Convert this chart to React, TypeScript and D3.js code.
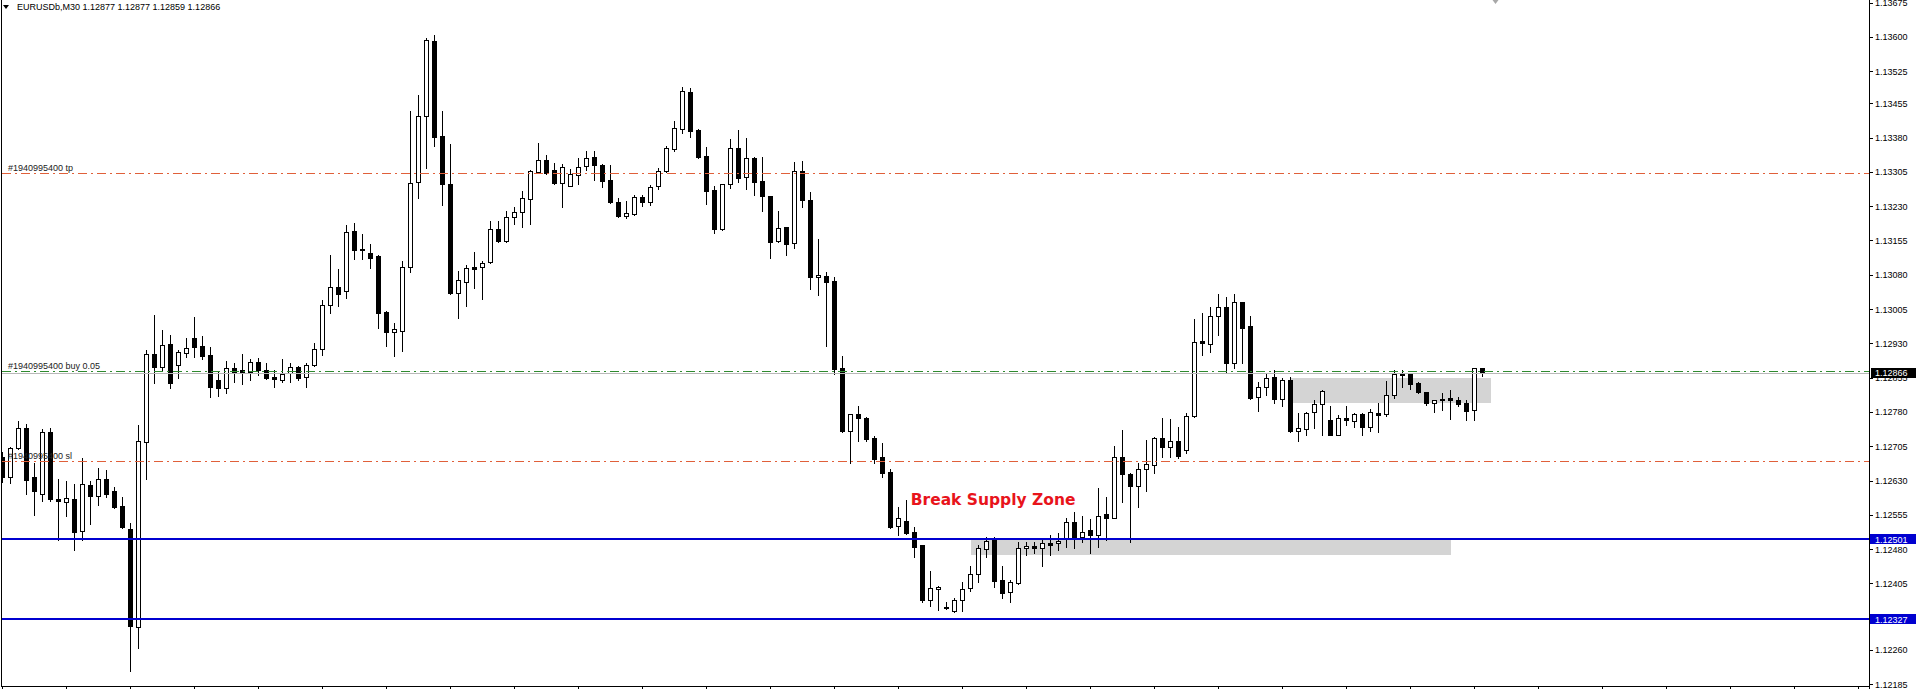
import React from "react";
import * as d3 from "d3";

const symbolTitle = "EURUSDb,M30  1.12877 1.12877 1.12859 1.12866";

const opens = [
  1.12682, 1.12638, 1.12700, 1.12744, 1.12637, 1.12600, 1.12736, 1.12590, 1.12584, 1.12589,
  1.12520, 1.12620, 1.12597, 1.12633, 1.12608, 1.12574, 1.12523, 1.12310, 1.12715, 1.12907,
  1.12879, 1.12929, 1.12883, 1.12908, 1.12941, 1.12925, 1.12904, 1.12850, 1.12832, 1.12875,
  1.12871, 1.12868, 1.12889, 1.12871, 1.12856, 1.12850, 1.12864, 1.12878, 1.12856, 1.12883,
  1.12917, 1.13013, 1.13053, 1.13044, 1.13176, 1.13136, 1.13128, 1.13121, 1.12999, 1.12955,
  1.12958, 1.13096, 1.13282, 1.13426, 1.13591, 1.13383, 1.13278, 1.13041, 1.13065, 1.13096,
  1.13096, 1.13108, 1.13179, 1.13154, 1.13207, 1.13217, 1.13245, 1.13305, 1.13331, 1.13309,
  1.13280, 1.13275, 1.13297, 1.13318, 1.13337, 1.13321, 1.13287, 1.13238, 1.13209, 1.13213,
  1.13251, 1.13238, 1.13273, 1.13307, 1.13355, 1.13399, 1.13479, 1.13397, 1.13340, 1.13265,
  1.13179, 1.13278, 1.13357, 1.13294, 1.13335, 1.13285, 1.13252, 1.13154, 1.13184, 1.13149,
  1.13307, 1.13243, 1.13074, 1.13077, 1.13066, 1.12875, 1.12739, 1.12775, 1.12767, 1.12722,
  1.12681, 1.12649, 1.12531, 1.12541, 1.12517, 1.12489, 1.12369, 1.12393, 1.12354, 1.12345,
  1.12369, 1.12394, 1.12425, 1.12480, 1.12500, 1.12412, 1.12386, 1.12405, 1.12482, 1.12487,
  1.12482, 1.12493, 1.12493, 1.12502, 1.12539, 1.12507, 1.12522, 1.12511, 1.12557, 1.12549,
  1.12681, 1.12644, 1.12619, 1.12655, 1.12664, 1.12722, 1.12704, 1.12716, 1.12697, 1.12770,
  1.12935, 1.12928, 1.12990, 1.13009, 1.12888, 1.13020, 1.12968, 1.12813, 1.12835, 1.12856,
  1.12808, 1.12850, 1.12739, 1.12742, 1.12779, 1.12797, 1.12762, 1.12730, 1.12767, 1.12760,
  1.12775, 1.12748, 1.12777, 1.12775, 1.12817, 1.12860, 1.12862, 1.12843, 1.12823, 1.12799,
  1.12808, 1.12810, 1.12806, 1.12799, 1.12784, 1.12877,
];

const highs = [
  1.12692, 1.12704, 1.12761, 1.12754, 1.12669, 1.12742, 1.12745, 1.12633, 1.12630, 1.12622,
  1.12679, 1.12629, 1.12657, 1.12653, 1.12615, 1.12593, 1.12536, 1.12751, 1.12915, 1.12992,
  1.12959, 1.12948, 1.12915, 1.12941, 1.12988, 1.12946, 1.12923, 1.12868, 1.12891, 1.12886,
  1.12907, 1.12896, 1.12897, 1.12886, 1.12872, 1.12895, 1.12886, 1.12880, 1.12888, 1.12930,
  1.13025, 1.13123, 1.13093, 1.13189, 1.13192, 1.13169, 1.13147, 1.13123, 1.13000, 1.12974,
  1.13110, 1.13439, 1.13473, 1.13597, 1.13604, 1.13437, 1.13366, 1.13089, 1.13101, 1.13129,
  1.13111, 1.13197, 1.13197, 1.13219, 1.13229, 1.13262, 1.13309, 1.13367, 1.13342, 1.13324,
  1.13323, 1.13311, 1.13335, 1.13351, 1.13351, 1.13323, 1.13321, 1.13247, 1.13241, 1.13254,
  1.13254, 1.13276, 1.13313, 1.13362, 1.13416, 1.13490, 1.13488, 1.13398, 1.13359, 1.13275,
  1.13279, 1.13376, 1.13397, 1.13378, 1.13338, 1.13338, 1.13253, 1.13219, 1.13185, 1.13327,
  1.13329, 1.13260, 1.13158, 1.13087, 1.13076, 1.12902, 1.12776, 1.12793, 1.12768, 1.12727,
  1.12713, 1.12655, 1.12571, 1.12587, 1.12529, 1.12490, 1.12432, 1.12399, 1.12365, 1.12372,
  1.12407, 1.12442, 1.12489, 1.12507, 1.12507, 1.12442, 1.12412, 1.12496, 1.12496, 1.12496,
  1.12504, 1.12511, 1.12515, 1.12547, 1.12561, 1.12552, 1.12545, 1.12613, 1.12593, 1.12706,
  1.12740, 1.12647, 1.12669, 1.12719, 1.12726, 1.12766, 1.12764, 1.12746, 1.12778, 1.12983,
  1.12996, 1.13010, 1.13038, 1.13031, 1.13038, 1.13021, 1.12990, 1.12846, 1.12864, 1.12872,
  1.12854, 1.12857, 1.12777, 1.12780, 1.12806, 1.12827, 1.12793, 1.12773, 1.12793, 1.12778,
  1.12778, 1.12786, 1.12799, 1.12848, 1.12872, 1.12872, 1.12863, 1.12846, 1.12824, 1.12806,
  1.12821, 1.12828, 1.12813, 1.12806, 1.12877, 1.12877,
];

const lows = [
  1.12627, 1.12624, 1.12699, 1.12600, 1.12555, 1.12586, 1.12586, 1.12500, 1.12552, 1.12477,
  1.12500, 1.12535, 1.12576, 1.12595, 1.12569, 1.12527, 1.12214, 1.12263, 1.12633, 1.12843,
  1.12870, 1.12832, 1.12854, 1.12901, 1.12899, 1.12895, 1.12812, 1.12815, 1.12821, 1.12846,
  1.12840, 1.12850, 1.12861, 1.12853, 1.12835, 1.12846, 1.12846, 1.12850, 1.12835, 1.12881,
  1.12904, 1.12996, 1.13012, 1.13030, 1.13114, 1.13114, 1.13095, 1.12963, 1.12925, 1.12903,
  1.12914, 1.13085, 1.13247, 1.13313, 1.13362, 1.13233, 1.13037, 1.12985, 1.13012, 1.13050,
  1.13026, 1.13105, 1.13152, 1.13152, 1.13191, 1.13184, 1.13190, 1.13303, 1.13300, 1.13278,
  1.13227, 1.13273, 1.13278, 1.13309, 1.13287, 1.13271, 1.13236, 1.13206, 1.13203, 1.13211,
  1.13231, 1.13233, 1.13267, 1.13305, 1.13351, 1.13389, 1.13382, 1.13335, 1.13235, 1.13172,
  1.13178, 1.13270, 1.13282, 1.13267, 1.13254, 1.13220, 1.13116, 1.13151, 1.13123, 1.13139,
  1.13227, 1.13049, 1.13036, 1.12924, 1.12863, 1.12735, 1.12668, 1.12717, 1.12717, 1.12668,
  1.12638, 1.12527, 1.12511, 1.12513, 1.12463, 1.12365, 1.12356, 1.12347, 1.12350, 1.12343,
  1.12345, 1.12389, 1.12409, 1.12462, 1.12398, 1.12372, 1.12365, 1.12404, 1.12466, 1.12471,
  1.12442, 1.12467, 1.12477, 1.12485, 1.12482, 1.12496, 1.12472, 1.12485, 1.12500, 1.12548,
  1.12584, 1.12496, 1.12571, 1.12606, 1.12646, 1.12682, 1.12682, 1.12680, 1.12690, 1.12768,
  1.12904, 1.12912, 1.12948, 1.12868, 1.12875, 1.12888, 1.12808, 1.12783, 1.12817, 1.12799,
  1.12793, 1.12737, 1.12717, 1.12730, 1.12745, 1.12730, 1.12729, 1.12729, 1.12751, 1.12746,
  1.12729, 1.12739, 1.12737, 1.12771, 1.12810, 1.12834, 1.12829, 1.12821, 1.12795, 1.12780,
  1.12784, 1.12764, 1.12793, 1.12762, 1.12762, 1.12859,
];

const closes = [
  1.12638, 1.12700, 1.12744, 1.12631, 1.12606, 1.12736, 1.12589, 1.12585, 1.12592, 1.12518,
  1.12622, 1.12597, 1.12633, 1.12600, 1.12571, 1.12529, 1.12312, 1.12717, 1.12907, 1.12879,
  1.12926, 1.12843, 1.12910, 1.12919, 1.12921, 1.12903, 1.12835, 1.12832, 1.12875, 1.12868,
  1.12868, 1.12889, 1.12872, 1.12855, 1.12851, 1.12863, 1.12878, 1.12854, 1.12883, 1.12917,
  1.13013, 1.13053, 1.13037, 1.13173, 1.13133, 1.13133, 1.13117, 1.12997, 1.12955, 1.12961,
  1.13096, 1.13280, 1.13426, 1.13593, 1.13381, 1.13278, 1.13039, 1.13069, 1.13094, 1.13093,
  1.13105, 1.13179, 1.13154, 1.13206, 1.13217, 1.13247, 1.13307, 1.13331, 1.13303, 1.13280,
  1.13316, 1.13300, 1.13316, 1.13335, 1.13321, 1.13286, 1.13238, 1.13209, 1.13214, 1.13251,
  1.13238, 1.13271, 1.13307, 1.13357, 1.13400, 1.13482, 1.13395, 1.13337, 1.13264, 1.13180,
  1.13278, 1.13357, 1.13292, 1.13335, 1.13283, 1.13253, 1.13152, 1.13182, 1.13147, 1.13307,
  1.13243, 1.13074, 1.13079, 1.13065, 1.12874, 1.12738, 1.12775, 1.12767, 1.12720, 1.12677,
  1.12647, 1.12529, 1.12547, 1.12515, 1.12485, 1.12369, 1.12396, 1.12398, 1.12351, 1.12369,
  1.12393, 1.12425, 1.12482, 1.12498, 1.12411, 1.12385, 1.12407, 1.12482, 1.12487, 1.12482,
  1.12493, 1.12490, 1.12498, 1.12539, 1.12507, 1.12518, 1.12511, 1.12552, 1.12549, 1.12681,
  1.12644, 1.12619, 1.12655, 1.12666, 1.12722, 1.12704, 1.12716, 1.12684, 1.12770, 1.12932,
  1.12930, 1.12990, 1.13009, 1.12888, 1.13020, 1.12964, 1.12811, 1.12835, 1.12854, 1.12808,
  1.12850, 1.12739, 1.12744, 1.12777, 1.12797, 1.12826, 1.12730, 1.12767, 1.12762, 1.12775,
  1.12748, 1.12779, 1.12774, 1.12817, 1.12862, 1.12862, 1.12840, 1.12823, 1.12799, 1.12805,
  1.12806, 1.12806, 1.12797, 1.12782, 1.12877, 1.12866,
];

const priceTicks = [
  "1.13675", "1.13600", "1.13525", "1.13455", "1.13380", "1.13305", "1.13230",
  "1.13155", "1.13080", "1.13005", "1.12930", "1.12855", "1.12780", "1.12705",
  "1.12630", "1.12555", "1.12480", "1.12405", "1.12330", "1.12260", "1.12185",
];

const orderLabels = ["#1940995400 tp", "#1940995400 buy 0.05", "#1940995400 sl"];
const orderPrices = [1.13303, 1.12870, 1.12672];
const orderKinds = ["tp", "buy", "sl"];

const levelPrices = [1.12501, 1.12327];
const bidPrice = 1.12866;

const zoneFrom = [121, 161];
const zoneTo = [181, 186];
const zoneTop = [1.12501, 1.12855];
const zoneBottom = [1.12466, 1.12800];

const noteText = "Break Supply Zone";
const noteIndex = 113.5;
const noteBaselinePrice = 1.12576;

const shiftIndex = 186.6;

export default function App() {
  const W = 1916;
  const H = 689;
  const plotLeft = 2;
  const plotRight = 1869;
  const plotBottom = 687;
  const n = opens.length;

  const x = d3.scaleLinear().domain([0, n - 1]).range([2.7, 2.7 + 8 * (n - 1)]);
  const y = d3.scaleLinear().domain([1.12185, 1.13675]).range([684, 2.62]);

  const font = "'Liberation Sans', Arial, sans-serif";
  const ry = (p: number) => Math.round(y(p));

  const xTicks = d3.range(0, Math.floor(x.invert(plotRight)) + 1, 8);

  const orderColor = (k: string) => (k === "buy" ? "#2f8a2f" : "#e0603a");

  return (
    <svg
      width={W}
      height={H}
      style={{ position: "absolute", left: 0, top: 0, background: "#fff" }}
      xmlns="http://www.w3.org/2000/svg"
    >
      <defs>
        <clipPath id="plot">
          <rect x={plotLeft} y={0} width={plotRight - plotLeft} height={plotBottom} />
        </clipPath>
      </defs>
      <rect x={0} y={0} width={W} height={H} fill="#fff" />

      <g clipPath="url(#plot)">
        {zoneFrom.map((f, k) => (
          <rect
            key={"z" + k}
            x={Math.round(x(f))}
            y={ry(zoneTop[k])}
            width={Math.round(x(zoneTo[k])) - Math.round(x(f))}
            height={ry(zoneBottom[k]) - ry(zoneTop[k])}
            fill="#d4d4d4"
          />
        ))}

        <g shapeRendering="crispEdges">
          {opens.map((o, i) => {
            const c = closes[i];
            const cx = Math.floor(x(i));
            const bull = c > o;
            const top = ry(Math.max(o, c));
            const bot = ry(Math.min(o, c));
            return (
              <g key={i}>
                <line
                  x1={cx + 0.5}
                  x2={cx + 0.5}
                  y1={ry(highs[i])}
                  y2={ry(lows[i]) + 1}
                  stroke="#000"
                  strokeWidth={1}
                />
                <rect
                  x={cx - 1.5}
                  y={top + 0.5}
                  width={4}
                  height={Math.max(bot - top, 0)}
                  fill={bull ? "#fff" : "#000"}
                  stroke="#000"
                  strokeWidth={1}
                />
              </g>
            );
          })}
        </g>

        <line
          x1={plotLeft}
          x2={plotRight}
          y1={ry(bidPrice) + 0.5}
          y2={ry(bidPrice) + 0.5}
          stroke="#b8b8b8"
          strokeWidth={1}
          shapeRendering="crispEdges"
        />

        {orderPrices.map((p, k) => (
          <g key={"o" + k}>
            <line
              x1={plotLeft}
              x2={plotRight}
              y1={ry(p) + 0.5}
              y2={ry(p) + 0.5}
              stroke={orderColor(orderKinds[k])}
              strokeWidth={1}
              strokeDasharray="9,4,2,4"
              shapeRendering="crispEdges"
            />
            <text x={8} y={ry(p) - 2.5} fontFamily={font} fontSize={9} fill="#222">
              {orderLabels[k]}
            </text>
          </g>
        ))}

        {levelPrices.map((p, k) => (
          <line
            key={"l" + k}
            x1={plotLeft}
            x2={plotRight}
            y1={ry(p)}
            y2={ry(p)}
            stroke="#0000d0"
            strokeWidth={2}
            shapeRendering="crispEdges"
          />
        ))}

        <text
          x={x(noteIndex)}
          y={y(noteBaselinePrice)}
          fontFamily="'DejaVu Sans', Verdana, sans-serif"
          fontWeight="bold"
          fontSize={15.5}
          fill="#e8141b"
        >
          {noteText}
        </text>
      </g>

      <g shapeRendering="crispEdges" stroke="#000" strokeWidth={1}>
        <line x1={plotLeft - 0.5} x2={plotLeft - 0.5} y1={0} y2={plotBottom} />
        <line x1={plotLeft - 1} x2={plotRight + 1} y1={plotBottom - 0.5} y2={plotBottom - 0.5} />
        <line x1={plotRight + 0.5} x2={plotRight + 0.5} y1={0} y2={H} />
        {xTicks.map((t) => (
          <line
            key={"xt" + t}
            x1={Math.floor(x(t)) + 0.5}
            x2={Math.floor(x(t)) + 0.5}
            y1={plotBottom}
            y2={H}
          />
        ))}
        {priceTicks.map((t) => (
          <line
            key={"yt" + t}
            x1={plotRight + 1}
            x2={plotRight + 4}
            y1={ry(+t) + 0.5}
            y2={ry(+t) + 0.5}
          />
        ))}
      </g>

      {priceTicks.map((t) => (
        <text
          key={"yl" + t}
          x={plotRight + 6}
          y={y(+t) + 3.5}
          fontFamily={font}
          fontSize={9}
          fill="#000"
        >
          {t}
        </text>
      ))}

      <rect x={plotRight + 2} y={ry(bidPrice) - 5} width={W - plotRight - 2} height={10} fill="#000" />
      <text x={plotRight + 6} y={y(bidPrice) + 3.5} fontFamily={font} fontSize={9} fill="#fff">
        {bidPrice.toFixed(5)}
      </text>

      {levelPrices.map((p, k) => (
        <g key={"ll" + k}>
          <rect x={plotRight + 1} y={ry(p) - 5} width={W - plotRight - 1} height={10} fill="#0000d0" />
          <text x={plotRight + 6} y={y(p) + 3.5} fontFamily={font} fontSize={9} fill="#fff">
            {p.toFixed(5)}
          </text>
        </g>
      ))}

      <path
        d={`M${x(shiftIndex) - 3},0 L${x(shiftIndex) + 3},0 L${x(shiftIndex)},4 Z`}
        fill="#a8a8a8"
      />

      <path d="M3,5 L9,5 L6,9 Z" fill="#000" />
      <text x={17} y={10} fontFamily={font} fontSize={9} fill="#000">
        {symbolTitle}
      </text>
    </svg>
  );
}
